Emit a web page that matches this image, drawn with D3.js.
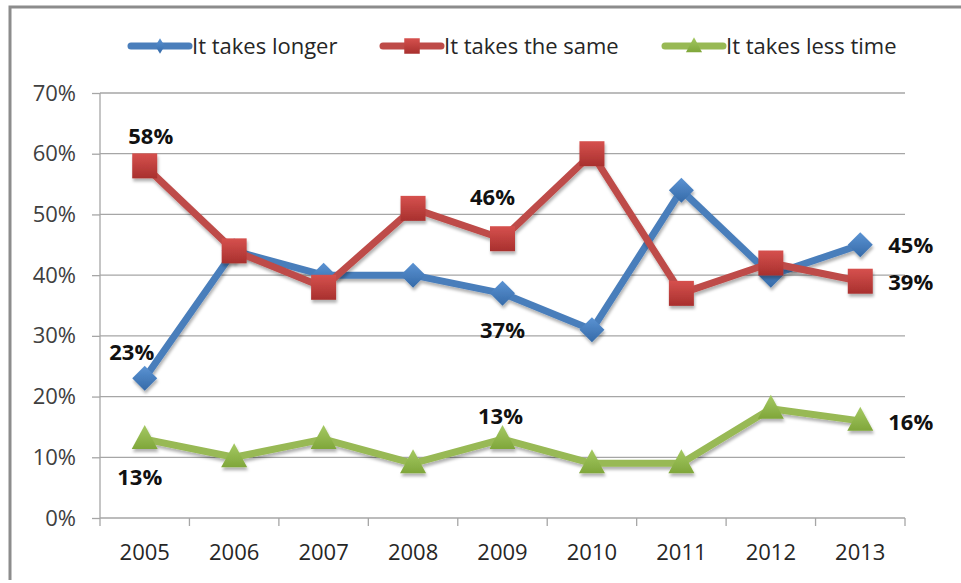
<!DOCTYPE html>
<html><head><meta charset="utf-8">
<script src="https://cdn.jsdelivr.net/npm/d3@7"></script>
<style>body{margin:0;background:#fff}svg{display:block}</style>
</head><body><svg id="c" width="961" height="583"></svg>
<script>
const years = ["2005","2006","2007","2008","2009","2010","2011","2012","2013"];
const longer = [23,44,40,40,37,31,54,40,45];
const same = [58,44,38,51,46,60,37,42,39];
const less = [13,10,13,9,13,9,9,18,16];
const seriesNames = ["It takes longer","It takes the same","It takes less time"];
const yTicks = [0,10,20,30,40,50,60,70];
// data labels: [series index, point index]
const labelPoints = [[1,0],[0,0],[2,0],[1,4],[0,4],[2,4],[0,8],[1,8],[2,8]];

const font = "'Open Sans', 'Liberation Sans', sans-serif";
const colors = ["#4A7EBB","#BE4B48","#98B954"];
const gradTop = ["#5B93D3","#D6514E","#A5C963"];
const gradBot = ["#356AA8","#A8302E","#7FA63A"];
const data = [longer, same, less];

// marker shapes (relative paths, scaled by s)
const shape = (k, s) => {
  if (k === 0) return `M0,${-12.5*s}L${12.5*s},0L0,${12.5*s}L${-12.5*s},0Z`;
  if (k === 1) return `M${-12.5*s},${-12.5*s}H${12.5*s}V${12.5*s}H${-12.5*s}Z`;
  return `M0,${-14*s}L${13*s},${10*s}L${-13*s},${10*s}Z`;
};

const svg = d3.select("#c");
const m = {l:100, r:905, t:93, b:518};
const x = d3.scaleBand().domain(years).range([m.l, m.r]);
const y = d3.scaleLinear().domain([0,70]).range([m.b, m.t]);

// outer border (left and top)
svg.append("path").attr("d","M10,580V7H961").attr("fill","none").attr("stroke","#8c8c8c").attr("stroke-width",3);

const defs = svg.append("defs");
const f = defs.append("filter").attr("id","sh").attr("x","-50%").attr("y","-50%").attr("width","200%").attr("height","200%");
f.append("feDropShadow").attr("dx",1).attr("dy",3).attr("stdDeviation",1.5).attr("flood-color","#000").attr("flood-opacity",0.3);
colors.forEach((c,k)=>{
  const g = defs.append("linearGradient").attr("id","g"+k).attr("x1",0).attr("y1",0).attr("x2",0).attr("y2",1);
  g.append("stop").attr("offset","0%").attr("stop-color",gradTop[k]);
  g.append("stop").attr("offset","100%").attr("stop-color",gradBot[k]);
});

// gridlines
svg.append("g").selectAll("line").data(yTicks.slice(1)).join("line")
  .attr("x1",m.l).attr("x2",m.r).attr("y1",d=>y(d)).attr("y2",d=>y(d))
  .attr("stroke","#a6a6a6").attr("stroke-width",1.3);

// y axis
const ya = svg.append("g").attr("transform",`translate(${m.l},0)`)
  .call(d3.axisLeft(y).tickValues(yTicks).tickFormat(d=>d+"%").tickSize(8).tickPadding(16));
ya.select(".domain").attr("stroke","#a6a6a6").attr("stroke-width",1.3).attr("d",`M0,${m.t}V${m.b}`);
ya.selectAll(".tick line").attr("stroke","#a6a6a6").attr("stroke-width",1.3);
ya.selectAll("text").attr("font-family",font).attr("font-size",22).attr("fill","#404040");

// x axis
const xa = svg.append("g").attr("transform",`translate(0,${m.b})`)
  .call(d3.axisBottom(x).tickSize(0).tickPadding(26));
xa.select(".domain").attr("stroke","#a6a6a6").attr("stroke-width",1.3).attr("d",`M${m.l},0H${m.r}`);
xa.selectAll("text").attr("font-family",font).attr("font-size",22).attr("fill","#262626");
svg.append("g").selectAll("line").data(years.concat(["end"])).join("line")
  .attr("x1",(d,i)=>m.l+i*x.step()).attr("x2",(d,i)=>m.l+i*x.step())
  .attr("y1",m.b).attr("y2",m.b+8).attr("stroke","#a6a6a6").attr("stroke-width",1.3);

const cx = i => x(years[i]) + x.bandwidth()/2;
const line = d3.line().x((d,i)=>cx(i)).y(d=>y(d));

// lines and markers
data.forEach((s,k)=>{
  const g = svg.append("g").attr("filter","url(#sh)");
  g.append("path").datum(s).attr("d",line).attr("fill","none")
    .attr("stroke",colors[k]).attr("stroke-width",7).attr("stroke-linejoin","round");
  g.selectAll("path.m").data(s).join("path").attr("class","m")
    .attr("d",shape(k,1))
    .attr("transform",(d,i)=>`translate(${cx(i)},${y(d)})`)
    .attr("fill",`url(#g${k})`);
});

// data labels
const offsets = {
  "1,0":[6,-30,"middle"], "0,0":[-13,-26,"middle"], "2,0":[-5,38,"middle"],
  "1,4":[-10,-42,"middle"], "0,4":[0,37,"middle"], "2,4":[-2,-23,"middle"],
  "0,8":[28,0,"start"], "1,8":[28,1,"start"], "2,8":[28,1,"start"]
};
svg.append("g").selectAll("text").data(labelPoints).join("text")
  .attr("x",d=>cx(d[1]) + offsets[d.join(",")][0])
  .attr("y",d=>y(data[d[0]][d[1]]) + offsets[d.join(",")][1])
  .attr("dy","0.36em").attr("text-anchor",d=>offsets[d.join(",")][2])
  .attr("font-family",font).attr("font-weight","bold").attr("font-size",22).attr("fill","#111")
  .text(d=>data[d[0]][d[1]]+"%");

// legend
const legX = [131, 383, 665];
const lg = svg.append("g");
seriesNames.forEach((n,k)=>{
  const g = lg.append("g").attr("transform",`translate(${legX[k]},46)`);
  g.append("line").attr("x1",0).attr("x2",58).attr("stroke",colors[k]).attr("stroke-width",7).attr("stroke-linecap","round");
  g.append("path").attr("d",shape(k,0.62)).attr("transform",`translate(29,0) ${k===0?"scale(0.6,1)":""}`).attr("fill",`url(#g${k})`);
  g.append("text").attr("x",61).attr("dy","0.36em").attr("font-family",font).attr("font-size",22).attr("fill","#262626").text(n);
});
</script></body></html>
